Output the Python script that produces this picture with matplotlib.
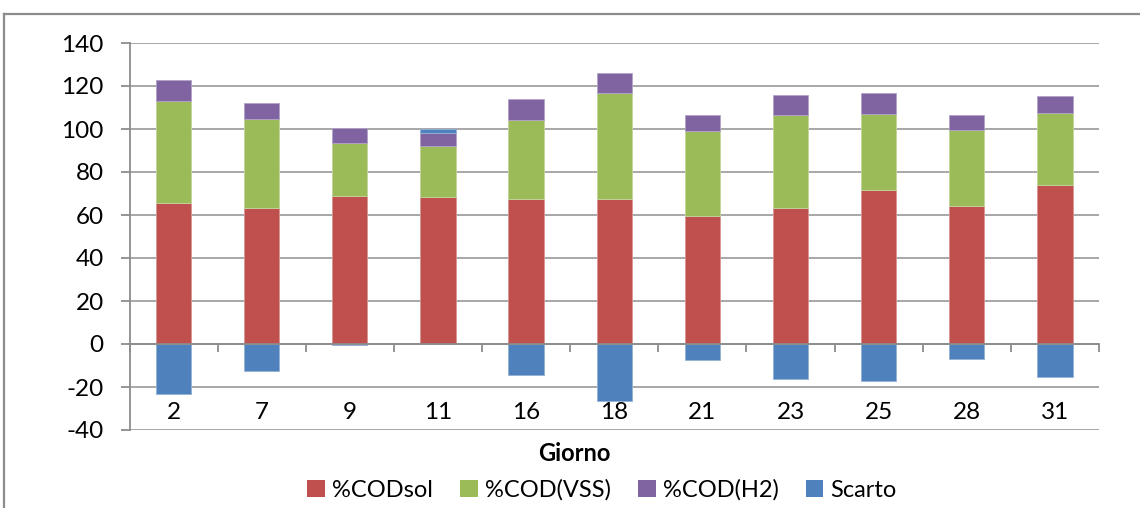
import numpy as np
import matplotlib
matplotlib.use("Agg")
import matplotlib.pyplot as plt
from matplotlib.patches import Patch
from matplotlib.lines import Line2D

plt.rcParams['font.family'] = ['Lato', 'DejaVu Sans']
plt.rcParams['axes.unicode_minus'] = False

# Days of the test and COD balance terms (%)
giorni = ['2', '7', '9', '11', '16', '18', '21', '23', '25', '28', '31']
cod_sol = np.array([65.4, 63.4, 69.0, 68.2, 67.6, 67.4, 59.7, 63.4, 71.8, 64.3, 73.8])
cod_vss = np.array([47.8, 41.4, 24.3, 23.9, 36.6, 49.3, 39.4, 43.1, 35.3, 35.2, 33.6])
cod_h2 = np.array([9.6, 7.4, 7.0, 5.9, 9.9, 9.2, 7.6, 9.5, 9.5, 7.0, 7.8])
scarto = np.array([-23.1, -12.7, -0.3, 1.8, -14.6, -26.4, -7.3, -16.3, -17.1, -7.0, -15.5])

serie = ['%CODsol', '%COD(VSS)', '%COD(H2)', 'Scarto']
colori = ['#C0504D', '#9BBB59', '#8064A2', '#4F81BD']
bordi = ['#D99694', '#C3D69B', '#B3A2C7', '#95B3D7']

W, H = 1140, 508
fig = plt.figure(figsize=(W / 100, H / 100), dpi=100)

# Outer chart-area frame
fig.add_artist(Line2D([4 / W, 4 / W], [0, 1 - 14 / H], color='#8c8c8c', lw=1.6,
                      transform=fig.transFigure))
fig.add_artist(Line2D([4 / W, 1], [1 - 14 / H, 1 - 14 / H], color='#8c8c8c', lw=1.6,
                      transform=fig.transFigure))

ax = fig.add_axes([129.5 / W, 1 - 430 / H, (1099 - 129.5) / W, (430 - 43) / H])

x = np.arange(len(giorni))
bw = 0.4
ax.bar(x, cod_sol, bw, color=colori[0], edgecolor=bordi[0], lw=0.6, zorder=3)
ax.bar(x, cod_vss, bw, bottom=cod_sol, color=colori[1], edgecolor=bordi[1], lw=0.6, zorder=3)
ax.bar(x, cod_h2, bw, bottom=cod_sol + cod_vss, color=colori[2], edgecolor=bordi[2], lw=0.6, zorder=3)
base_scarto = np.where(scarto > 0, cod_sol + cod_vss + cod_h2, 0)
ax.bar(x, scarto, bw, bottom=base_scarto, color=colori[3], edgecolor=bordi[3], lw=0.6, zorder=3)

ax.set_xlim(-0.5, len(giorni) - 0.5)
ax.set_ylim(-40, 140)
ax.set_yticks(np.arange(-40, 141, 20))
ax.yaxis.grid(True, color='#a0a0a0', lw=1.3, zorder=0)
ax.set_axisbelow(True)

for s in ['top', 'right']:
    ax.spines[s].set_visible(False)
ax.spines['left'].set_color('#8c8c8c')
ax.spines['left'].set_linewidth(1.3)
ax.spines['bottom'].set_position(('data', 0))
ax.spines['bottom'].set_color('#8c8c8c')
ax.spines['bottom'].set_linewidth(1.3)
ax.spines['bottom'].set_zorder(4)

ax.tick_params(axis='y', direction='out', length=6.5, width=1.3, color='#8c8c8c',
               pad=12, labelsize=17.5, labelcolor='black')
ax.set_xticks(x)
ax.set_xticklabels([])
ax.tick_params(axis='x', which='major', length=0)
ax.set_xticks(np.arange(-0.5, len(giorni)), minor=True)
ax.tick_params(axis='x', which='minor', direction='out', length=5.5, width=1.3, color='#8c8c8c')

for xi, g in zip(x, giorni):
    ax.text(xi, -34.9, g, ha='center', va='baseline', fontsize=17.5, color='black')

fig.text(574.5 / W, 1 - 461 / H, 'Giorno', ha='center', va='baseline',
         fontsize=17, fontweight='bold', color='black')

handles = [Patch(facecolor=c, edgecolor='none') for c in colori]
fig.legend(handles, serie, loc='center', bbox_to_anchor=(602 / W, 1 - 490 / H), ncol=4,
           frameon=False, fontsize=17, handlelength=0.75, handleheight=0.75,
           handletextpad=0.3, columnspacing=1.15, borderaxespad=0)

fig.savefig('out.png', dpi=100)
